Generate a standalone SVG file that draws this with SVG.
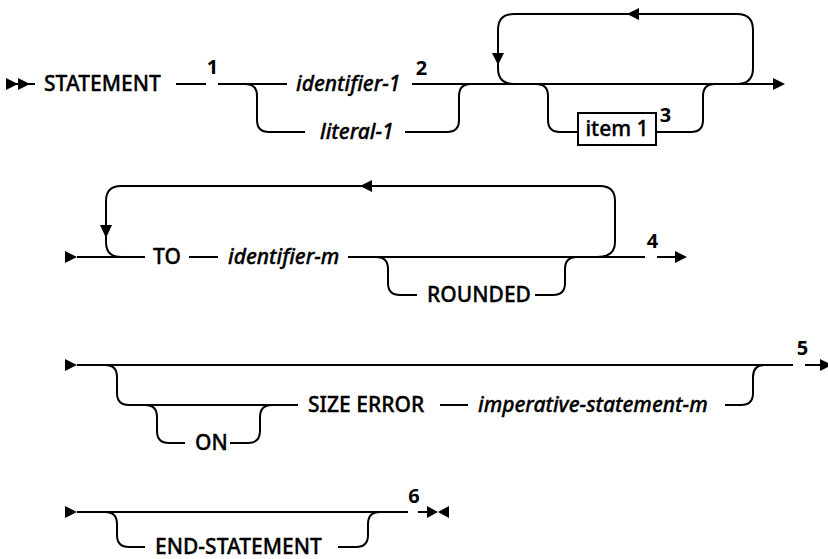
<svg xmlns="http://www.w3.org/2000/svg" width="828" height="559" viewBox="0 0 828 559">
<style>
.ln{fill:none;stroke:#000;stroke-width:2}
.ah{fill:#000;stroke:none}
.t{font-family:"Noto Sans","Liberation Sans",sans-serif;font-size:21px;font-weight:500;fill:#000;stroke:#000;stroke-width:0.35}
.v{font-style:italic}
.n{font-family:"Noto Sans","Liberation Sans",sans-serif;font-size:20px;font-weight:bold;fill:#000;text-anchor:middle}
.box{fill:#fff;stroke:#000;stroke-width:2}
</style>
<rect width="828" height="559" fill="#fff"/>
<g id="connectors">
<!-- row 1 -->
<path class="ln" d="M6,84 L35,84"/>
<path class="ah" d="M6,78 L18,84 L6,90 Z M18,78 L30,84 L18,90 Z"/>
<path class="ln" d="M176,84 L206,84 M218,84 L287,84"/>
<path class="ln" d="M245,84 Q257,84 257,96 L257,120 Q257,132 269,132 L305,132"/>
<path class="ln" d="M405,132 L447,132 Q459,132 459,120 L459,96 Q459,84 471,84"/>
<path class="ln" d="M412,84 L775,84"/>
<path class="ah" d="M773,78 L785,84 L773,90 Z"/>
<path class="ln" d="M737,84 Q753,84 753,68 L753,30 Q753,14 737,14 L514,14 Q498,14 498,30 L498,68 Q498,84 514,84"/>
<path class="ah" d="M492,53 L504,53 L498,65 Z"/>
<path class="ah" d="M627,14 L639,8 L639,20 Z"/>
<path class="ln" d="M536,84 Q548,84 548,96 L548,120 Q548,132 560,132 L578,132"/>
<path class="ln" d="M656,132 L691,132 Q703,132 703,120 L703,96 Q703,84 715,84"/>
<!-- row 2 -->
<path class="ah" d="M65,251 L77,257 L65,263 Z"/>
<path class="ln" d="M77,257 L145,257 M189,257 L218,257 M348,257 L645,257 M657,257 L677,257"/>
<path class="ah" d="M675,251 L687,257 L675,263 Z"/>
<path class="ln" d="M597,257 Q615,257 615,242 L615,201 Q615,186 600,186 L121,186 Q106,186 106,201 L106,242 Q106,257 121,257"/>
<path class="ah" d="M100,225 L112,225 L106,238 Z"/>
<path class="ah" d="M360,186 L372,180 L372,192 Z"/>
<path class="ln" d="M376,257 Q388,257 388,269 L388,283 Q388,295 400,295 L417,295"/>
<path class="ln" d="M535,295 L553,295 Q565,295 565,283 L565,269 Q565,257 577,257"/>
<!-- row 3 -->
<path class="ah" d="M65,359 L77,365 L65,371 Z"/>
<path class="ln" d="M77,365 L793,365 M805,365 L823,365"/>
<path class="ah" d="M820,359 L832,365 L820,371 Z"/>
<path class="ln" d="M105,365 Q117,365 117,377 L117,393 Q117,405 129,405 L298,405"/>
<path class="ln" d="M145,405 Q157,405 157,417 L157,431 Q157,443 169,443 L185,443"/>
<path class="ln" d="M230,443 L248,443 Q260,443 260,431 L260,417 Q260,405 272,405"/>
<path class="ln" d="M440,405 L468,405"/>
<path class="ln" d="M725,405 L741,405 Q753,405 753,393 L753,377 Q753,365 765,365"/>
<!-- row 4 -->
<path class="ah" d="M65,506 L77,512 L65,518 Z"/>
<path class="ln" d="M77,512 L408,512 M418,512 L430,512"/>
<path class="ah" d="M427,506 L438,512 L427,518 Z M449,506 L438,512 L449,518 Z"/>
<path class="ln" d="M105,512 Q117,512 117,524 L117,535 Q117,547 129,547 L145,547"/>
<path class="ln" d="M338,547 L356,547 Q368,547 368,535 L368,524 Q368,512 380,512"/>
</g>
<g id="statement"><text class="t" x="44" y="91">STATEMENT</text></g>
<g id="note1"><text class="n" x="212.5" y="74">1</text></g>
<g id="identifier-1"><text class="t v" x="296" y="91">identifier-1</text></g>
<g id="note2"><text class="n" x="421.5" y="75">2</text></g>
<g id="literal-1"><text class="t v" x="320" y="139">literal-1</text></g>
<g id="item1"><rect class="box" x="578" y="113" width="78" height="32"/><text class="t" x="617" y="136" text-anchor="middle">item 1</text></g>
<g id="note3"><text class="n" x="665.5" y="122">3</text></g>
<g id="to"><text class="t" x="153" y="264">TO</text></g>
<g id="identifier-m"><text class="t v" x="228" y="264">identifier-m</text></g>
<g id="rounded"><text class="t" x="427" y="302">ROUNDED</text></g>
<g id="note4"><text class="n" x="652.5" y="248">4</text></g>
<g id="on"><text class="t" x="195" y="450">ON</text></g>
<g id="size-error"><text class="t" x="308" y="412">SIZE ERROR</text></g>
<g id="imperative"><text class="t v" x="478" y="412">imperative-statement-m</text></g>
<g id="note5"><text class="n" x="802.5" y="355">5</text></g>
<g id="end-statement"><text class="t" x="155" y="554">END-STATEMENT</text></g>
<g id="note6"><text class="n" x="414" y="503">6</text></g>
</svg>
